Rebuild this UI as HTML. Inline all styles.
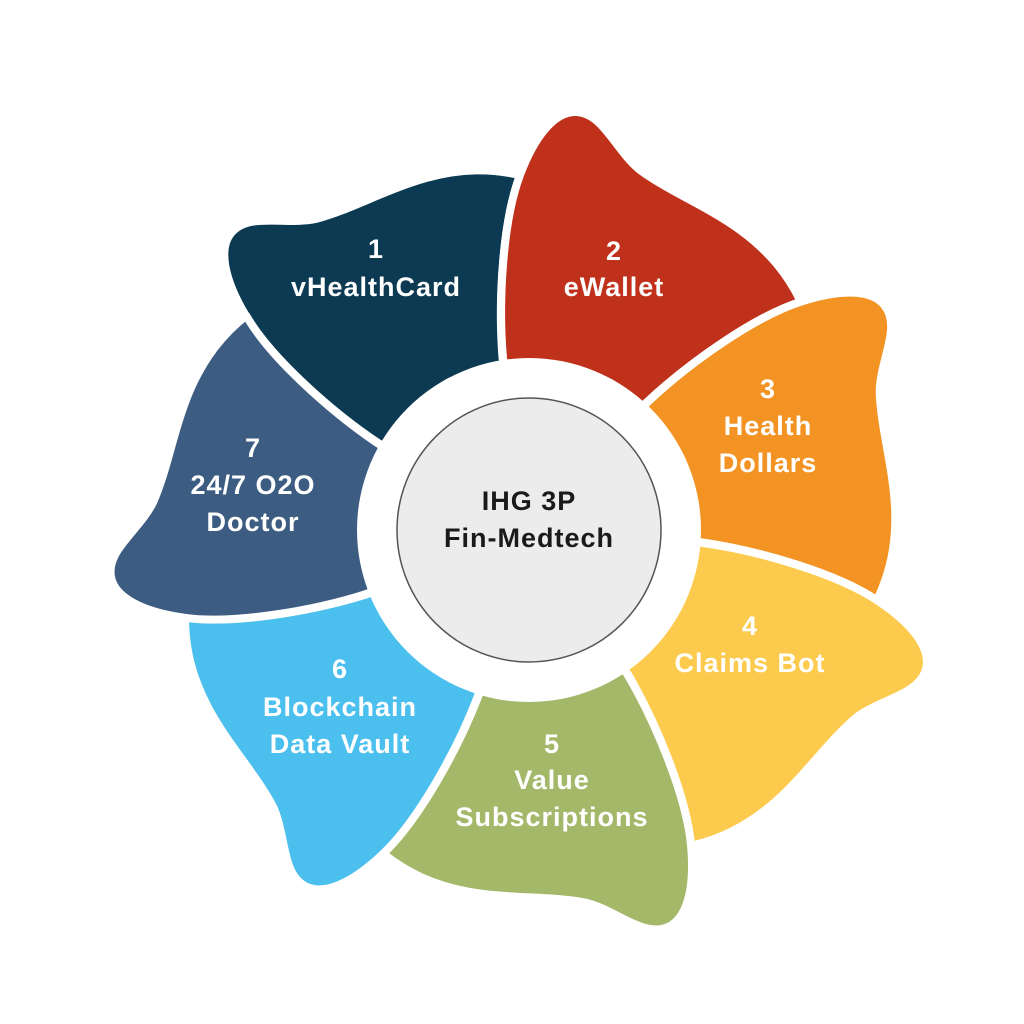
<!DOCTYPE html>
<html><head><meta charset="utf-8"><style>
html,body{margin:0;padding:0;background:#fff;}
svg{display:block;}
text{font-family:"Liberation Sans",sans-serif;font-weight:bold;text-anchor:middle;letter-spacing:1px;}
</style></head><body>
<svg width="1024" height="1024" viewBox="0 0 1024 1024" xmlns="http://www.w3.org/2000/svg">
<defs>
<path id="p" d="M529,530 L503,358 C498,300 503,220 520,175 C535,135 555,112 575,112 C603,112 615,150 640,170 C670,192 705,205 740,230 C770,252 788,275 801,302 C755,316 689.5,362.4 647,402 Z"/>
</defs>
<g stroke="#fff" stroke-width="8" stroke-linejoin="round">
<use href="#p" fill="#0b3a52" transform="rotate(-51.43 529 530)"/>
<use href="#p" fill="#bf311a"/>
<use href="#p" fill="#f39323" transform="rotate(51.43 529 530)"/>
<use href="#p" fill="#fccb4e" transform="rotate(102.86 529 530)"/>
<use href="#p" fill="#a4b86a" transform="rotate(154.29 529 530)"/>
<use href="#p" fill="#4bbfed" transform="rotate(205.71 529 530)"/>
<use href="#p" fill="#3c5c82" transform="rotate(257.14 529 530)"/>
</g>
<circle cx="529" cy="530" r="172" fill="#fff"/>
<circle cx="529" cy="530" r="132" fill="#ececec" stroke="#555" stroke-width="1.5"/>
<g fill="#fff" font-size="27">
<text x="376" y="258">1</text><text x="376" y="296">vHealthCard</text>
<text x="614" y="260">2</text><text x="614" y="296">eWallet</text>
<text x="768" y="398">3</text><text x="768" y="435">Health</text><text x="768" y="472">Dollars</text>
<text x="750" y="635">4</text><text x="750" y="672">Claims Bot</text>
<text x="552" y="753">5</text><text x="552" y="789">Value</text><text x="552" y="826">Subscriptions</text>
<text x="340" y="678">6</text><text x="340" y="716">Blockchain</text><text x="340" y="753">Data Vault</text>
<text x="253" y="457">7</text><text x="253" y="494">24/7 O2O</text><text x="253" y="531">Doctor</text>
</g>
<g fill="#1a1a1a" font-size="27">
<text x="529" y="510">IHG 3P</text><text x="529" y="547">Fin-Medtech</text>
</g>
</svg>
</body></html>
